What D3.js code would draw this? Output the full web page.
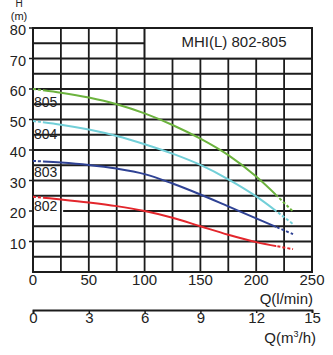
<!DOCTYPE html>
<html><head><meta charset="utf-8">
<script src="https://cdn.jsdelivr.net/npm/d3@7"></script>
<style>
html,body{margin:0;padding:0;background:#fff;}
svg{display:block;font-family:"Liberation Sans",Arial,sans-serif;}
</style></head>
<body>
<div id="chart"></div>
<script>
const qPoints = [0, 25, 50, 75, 100, 125, 150, 175, 200, 233];
const h805 = [60, 58.8, 57.2, 55.0, 52.0, 48.2, 43.7, 38.3, 31.3, 19.8];
const h804 = [49.5, 48.3, 46.7, 44.6, 41.9, 38.8, 35.1, 30.4, 24.8, 15.7];
const h803 = [36.4, 35.9, 35.1, 33.9, 32.1, 29.0, 25.4, 21.5, 17.6, 12.4];
const h802 = [24.7, 23.8, 22.8, 21.6, 20.0, 17.8, 15.0, 12.2, 9.8, 7.5];
const seriesNames = ["805", "804", "803", "802"];
const seriesColors = ["#6cb33e", "#72cfd8", "#2f4294", "#e3262c"];
const seriesLabelH = [55, 44.6, 32.1, 21];
const yTicks = [10, 20, 30, 40, 50, 60, 70, 80];
const xTicksLmin = [0, 50, 100, 150, 200, 250];
const xTicksM3h = [0, 3, 6, 9, 12, 15];
const title = "MHI(L) 802-805";

const W = 333, H = 355;
const svg = d3.select("#chart").append("svg").attr("width", W).attr("height", H);

const x = d3.scaleLinear().domain([0, 250]).range([33, 312]);
const y = d3.scaleLinear().domain([0, 80]).range([272, 28]);
const x2 = d3.scaleLinear().domain([0, 15]).range([33, 312]);

const gridColor = "#1c1c1c";
const grid = svg.append("g");
d3.range(5, 80, 5).forEach(v => {
  const startQ = (v === 20) ? 27 : 0;
  grid.append("line").attr("x1", x(startQ)).attr("x2", x(250))
    .attr("y1", y(v)).attr("y2", y(v))
    .attr("stroke", gridColor).attr("stroke-width", 1.8);
});
d3.range(25, 250, 25).forEach(v => {
  grid.append("line").attr("x1", x(v)).attr("x2", x(v))
    .attr("y1", y(0)).attr("y2", y(80))
    .attr("stroke", gridColor).attr("stroke-width", 1.8);
});
grid.append("rect").attr("x", x(100)).attr("y", y(80))
  .attr("width", x(250) - x(100)).attr("height", y(70) - y(80))
  .attr("fill", "#fff").attr("stroke", gridColor).attr("stroke-width", 1.8);
grid.append("rect").attr("x", x(0)).attr("y", y(80))
  .attr("width", x(250) - x(0)).attr("height", y(0) - y(80))
  .attr("fill", "none").attr("stroke", gridColor).attr("stroke-width", 2);

svg.append("text").attr("x", 234).attr("y", 47).attr("text-anchor", "middle")
  .attr("font-size", 15).attr("fill", "#222").text(title);

yTicks.forEach(v => {
  svg.append("line").attr("x1", x(0) - 4).attr("x2", x(0)).attr("y1", y(v)).attr("y2", y(v))
    .attr("stroke", gridColor).attr("stroke-width", 1.5);
  svg.append("text").attr("x", 26).attr("y", y(v) + 7).attr("text-anchor", "end")
    .attr("font-size", 14.5).attr("fill", "#222").text(v);
});
svg.append("text").attr("x", 19).attr("y", 7.3).attr("text-anchor", "middle")
  .attr("font-size", 10).attr("fill", "#222").text("H");
svg.append("text").attr("x", 19).attr("y", 19.6).attr("text-anchor", "middle")
  .attr("font-size", 11).attr("fill", "#222").text("(m)");

xTicksLmin.forEach(v => {
  svg.append("text").attr("x", x(v)).attr("y", 285).attr("text-anchor", "middle")
    .attr("font-size", 15).attr("fill", "#222").text(v);
});
svg.append("text").attr("x", 313).attr("y", 304).attr("text-anchor", "end")
  .attr("font-size", 15).attr("fill", "#222").text("Q(l/min)");

const ax2 = svg.append("g").attr("transform", "translate(0,310)")
  .call(d3.axisBottom(x2).tickValues(xTicksM3h).tickSize(3).tickFormat(d => d));
ax2.select(".domain").attr("stroke", gridColor).attr("stroke-width", 1.8);
ax2.selectAll(".tick line").attr("stroke", gridColor).attr("stroke-width", 1.5);
ax2.selectAll(".tick text").attr("font-size", 15).attr("fill", "#222")
  .attr("font-family", "Liberation Sans, Arial, sans-serif").attr("dy", "0.55em").attr("y", 5);
const q3 = svg.append("text").attr("x", 316).attr("y", 343).attr("text-anchor", "end")
  .attr("font-size", 15).attr("fill", "#222");
q3.append("tspan").text("Q(m");
q3.append("tspan").attr("font-size", 9).attr("dy", -6).text("3");
q3.append("tspan").attr("dy", 6).text("/h)");

const defs = svg.append("defs");
const solidFrom = 9, solidTo = 218;
defs.append("clipPath").attr("id", "solidClip").append("rect")
  .attr("x", x(solidFrom)).attr("y", 0).attr("width", x(solidTo) - x(solidFrom)).attr("height", H);
const dc = defs.append("clipPath").attr("id", "dashClip");
dc.append("rect").attr("x", 0).attr("y", 0).attr("width", x(solidFrom)).attr("height", H);
dc.append("rect").attr("x", x(solidTo)).attr("y", 0).attr("width", W - x(solidTo)).attr("height", H);

const line = d3.line().x(d => x(d[0])).y(d => y(d[1])).curve(d3.curveCatmullRom.alpha(0.5));
const allSeries = [h805, h804, h803, h802];
allSeries.forEach((hs, i) => {
  const pts = qPoints.map((q, j) => [q, hs[j]]);
  svg.append("path").attr("d", line(pts)).attr("fill", "none")
    .attr("stroke", seriesColors[i]).attr("stroke-width", 2)
    .attr("clip-path", "url(#solidClip)");
  svg.append("path").attr("d", line(pts)).attr("fill", "none")
    .attr("stroke", seriesColors[i]).attr("stroke-width", 2)
    .attr("stroke-dasharray", "3,2")
    .attr("clip-path", "url(#dashClip)");
});

seriesNames.forEach((n, i) => {
  svg.append("text").attr("x", 34).attr("y", y(seriesLabelH[i]) + 3)
    .attr("font-size", 14).attr("fill", "#222").text(n);
});
</script>
</body></html>
